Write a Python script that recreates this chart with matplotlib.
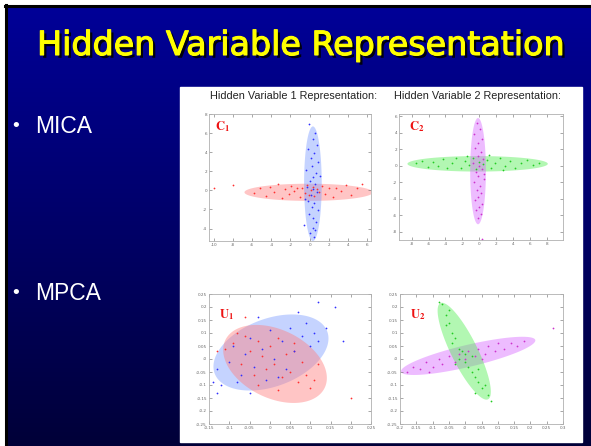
import numpy as np
import matplotlib
matplotlib.use("Agg")
import matplotlib.pyplot as plt
import matplotlib.patheffects as pe

plt.rcParams['mathtext.fontset'] = 'stix'

# ---- data ----
c1_red_x = [-10.0, -8.0, -5.8, -5.2, -4.6, -4.1, -3.7, -3.3, -2.9, -2.6, -2.2, -1.9, -1.6, -1.3, -1.0, -0.8, -0.5,
            -0.3, -0.1, 0.1, 0.3, 0.5, 0.8, 1.0, 1.3, 1.6, 2.0, 2.4, 2.8, 3.3, 3.8, 4.3, 4.9, 5.5]
c1_red_y = [0.3, 0.6, -0.3, 0.2, -0.6, 0.4, -0.2, 0.7, -0.8, 0.1, -0.4, 0.5, -0.1, 0.3, -0.7, 0.2, -0.3,
            0.6, -0.5, 0.0, 0.4, -0.6, 0.1, -0.2, 0.5, -0.4, 0.2, -0.7, 0.3, -0.1, 0.6, -0.5, 0.2, 0.7]
c1_blue_x = [-0.1, 0.6, 0.3, 0.8, -0.2, 0.5, 0.1, 0.9, 0.2, -0.4, 0.7, 0.4, 0.0, 0.6, -0.3, 0.3, 0.8, 0.1,
             -0.5, 0.5, 0.2, 0.9, -0.1, 0.4, 0.7, -0.6, 0.3, 0.6, 0.0, 1.1, -0.2, 0.5]
c1_blue_y = [7.0, 6.0, 5.4, 4.8, 4.3, 3.9, 3.4, 3.0, 2.6, 2.1, 1.8, 1.4, 1.0, 0.7, 0.4, 0.1, -0.2, -0.5,
             -0.9, -1.3, -1.7, -2.1, -2.5, -2.9, -3.3, -3.6, -3.9, -4.2, -4.5, 1.5, -1.1, -4.9]

c2_green_x = [-7.5, -6.8, -6.1, -5.5, -4.9, -4.3, -3.8, -3.2, -2.7, -2.2, -1.7, -1.2, -0.8, -0.4, 0.0, 0.4, 0.9,
              1.4, 1.9, 2.4, 3.0, 3.6, 4.2, 4.9, 5.6, 6.3, 7.1, -1.5, 1.2, 2.8]
c2_green_y = [0.3, 0.6, -0.1, 0.5, 0.0, 0.8, -0.3, 0.4, 0.9, -0.2, 0.6, 0.1, 1.0, -0.4, 0.5, 0.2, 0.7,
              -0.2, 0.4, 0.9, 0.0, 0.6, -0.3, 0.3, 0.7, 0.1, 0.4, 1.2, 1.3, -0.5]
c2_mag_x = [-0.3, 0.1, -0.6, 0.3, -0.2, -0.5, 0.2, -0.1, 0.4, -0.7, 0.0, 0.3, -0.4, -0.2, 0.5, -0.6, 0.1,
            -0.3, 0.2, -0.1, -0.5, 0.3, 0.0, -0.4, 0.2, -0.2, 0.6, 0.3]
c2_mag_y = [5.2, 4.5, 3.9, 3.3, 2.8, 2.2, 1.7, 1.2, 0.8, 0.4, 0.0, -0.4, -0.8, -1.2, -1.6, -2.0, -2.5,
            -2.9, -3.3, -3.8, -4.2, -4.6, -5.0, -5.4, -5.9, -6.3, -1.0, -8.9]

u1_red_x = [-0.11, -0.09, -0.07, -0.06, -0.05, -0.04, -0.03, -0.02, -0.01, 0.0, 0.01, 0.02, 0.03, 0.04, 0.05,
            0.06, 0.07, 0.08, 0.09, 0.10, 0.11, -0.08, -0.03, 0.02, 0.06, 0.27, 0.20, -0.13, 0.12, -0.06]
u1_red_y = [0.04, 0.06, -0.02, 0.09, 0.03, -0.06, 0.07, 0.01, -0.04, 0.05, -0.02, 0.08, -0.07, 0.02, -0.05,
            0.03, -0.09, -0.01, -0.06, -0.11, -0.08, 0.10, -0.10, -0.12, 0.06, -0.21, -0.15, 0.03, -0.02, 0.16]
u1_blue_x = [-0.13, -0.12, -0.10, -0.09, -0.07, -0.06, -0.05, -0.04, -0.02, -0.01, 0.0, 0.01, 0.03, 0.04, 0.05,
             0.06, 0.08, 0.09, 0.10, 0.11, 0.12, -0.08, -0.03, 0.02, 0.07, 0.12, 0.16, 0.18, 0.27, -0.14, -0.13,
             -0.05, 0.14]
u1_blue_y = [-0.04, -0.10, -0.01, 0.05, -0.06, 0.02, 0.08, -0.03, 0.04, -0.08, 0.11, 0.00, 0.07, -0.04, 0.12,
             0.03, 0.09, 0.14, 0.05, 0.10, 0.07, -0.09, 0.16, -0.07, 0.18, 0.22, 0.20, 0.07, 0.06, -0.09, -0.13,
             -0.13, 0.12]

u2_green_x = [-0.07, -0.06, -0.06, -0.05, -0.04, -0.04, -0.03, -0.02, -0.02, -0.01, 0.0, 0.0, 0.01, 0.02, 0.02,
              0.03, 0.04, 0.04, 0.05, 0.06, 0.07, -0.05, 0.08, -0.08, -0.03, 0.03]
u2_green_y = [0.21, 0.17, 0.13, 0.14, 0.10, 0.06, 0.08, 0.04, 0.00, 0.03, -0.01, 0.02, -0.03, -0.05, 0.01,
              -0.07, -0.09, -0.04, -0.11, -0.10, -0.14, 0.19, -0.16, 0.22, -0.02, -0.13]
u2_mag_x = [-0.18, -0.16, -0.14, -0.12, -0.10, -0.08, -0.07, -0.05, -0.03, -0.02, 0.0, 0.01, 0.03, 0.04, 0.06,
            0.07, 0.09, 0.10, 0.12, 0.14, 0.16, 0.18, -0.11, 0.05, 0.27]
u2_mag_y = [-0.05, -0.03, -0.04, -0.01, -0.03, 0.00, -0.02, 0.01, -0.01, 0.02, 0.00, 0.03, 0.01, 0.04, 0.02,
            0.05, 0.03, 0.06, 0.04, 0.06, 0.05, 0.07, -0.05, 0.00, 0.12]

# ellipses: centre, two conjugate half-axis vectors (data units)
c1_red_ell = [(-0.1, -0.2), (6.7, 0.0), (0.0, 0.9)]
c1_blue_ell = [(0.34, 0.7), (0.92, 0.0), (0.0, 6.0)]
c2_green_ell = [(-0.2, 0.25), (8.3, 0.0), (0.0, 0.94)]
c2_mag_ell = [(-0.15, -0.64), (0.93, 0.0), (0.0, 6.45)]
u1_blue_ell = [(0.003, 0.025), (0.142, 0.054), (0.0, 0.136)]
u1_red_ell = [(0.013, -0.019), (0.128, -0.054), (0.0, 0.140)]
u2_green_ell = [(-0.003, 0.03), (-0.073, 0.185), (0.0365, 0.022)]
u2_mag_ell = [(0.009, 0.012), (0.206, 0.061), (-0.008, 0.041)]

W, H = 591, 446
fig = plt.figure(figsize=(W / 100, H / 100), dpi=100)

# slide background, laid out in pixel units
bg = fig.add_axes([0, 0, 1, 1])
bg.set_xlim(0, W)
bg.set_ylim(H, 0)
bg.axis('off')
grad = np.linspace(0, 1, 256).reshape(-1, 1)
top = np.array([0.0, 0.0, 0.60])
bot = np.array([0.0, 0.0, 0.22])
img = top + (bot - top) * grad[..., None]
bg.imshow(img, extent=[0, W, H, 0], aspect='auto', zorder=0)
bg.add_patch(plt.Rectangle((0, 0), W, 5, color='white', zorder=1))
bg.add_patch(plt.Rectangle((0, 0), 5, H, color='white', zorder=1))
bg.plot([5.5, 5.5], [5, H], color='black', lw=2.2, zorder=2)
bg.plot([5, W], [6, 6], color='black', lw=2.2, zorder=2)

bg.text(301, 55, "Hidden Variable Representation", color='#ffff00', fontsize=24,
        ha='center', va='baseline', zorder=3,
        path_effects=[pe.SimplePatchShadow(offset=(2, -2), shadow_rgbFace='black', alpha=0.9),
                      pe.withStroke(linewidth=0.8, foreground='#ffff00')])

for label, yb in [("MICA", 133), ("MPCA", 300)]:
    bg.text(12, yb - 2, "\u2022", color='white', fontsize=14, family='Liberation Sans',
            va='baseline', zorder=3)
    bg.text(35, yb, label, color='white', fontsize=16.5, family='Liberation Sans',
            va='baseline', zorder=3)

# white picture area
bg.add_patch(plt.Rectangle((180, 87), 402, 355, color='white', zorder=2))
bg.text(293.5, 96, "Hidden Variable 1 Representation:", fontsize=7.8, family='Liberation Sans',
        color='#222222', ha='center', va='center', zorder=3)
bg.text(477.5, 96, "Hidden Variable 2 Representation:", fontsize=7.8, family='Liberation Sans',
        color='#222222', ha='center', va='center', zorder=3)


def ellipse(ax, ell, color):
    (cx, cy), (ax_, ay_), (bx, by) = ell
    t = np.linspace(0, 2 * np.pi, 200)
    xs = cx + ax_ * np.cos(t) + bx * np.sin(t)
    ys = cy + ay_ * np.cos(t) + by * np.sin(t)
    ax.fill(xs, ys, color=color, alpha=0.45, lw=0, zorder=1)


def style(ax, xlim, ylim, xticks, yticks):
    ax.set_xlim(*xlim)
    ax.set_ylim(*ylim)
    ax.set_xticks(xticks)
    ax.set_yticks(yticks)
    ax.set_xticklabels(['%g' % v for v in xticks])
    ax.set_yticklabels(['%g' % v for v in yticks])
    ax.tick_params(direction='in', length=2, width=0.4, labelsize=3, colors='#666666',
                   top=True, right=True, pad=1.5)
    for s in ax.spines.values():
        s.set_color('#b0b0b0')
        s.set_linewidth(0.6)


def pos(l, r, t, b):
    return [l / W, 1 - b / H, (r - l) / W, (b - t) / H]


panels = [
    dict(rect=pos(209, 371, 114, 241), xlim=(-10.5, 6.4), ylim=(-5.3, 8),
         xt=np.arange(-10, 7, 2), yt=np.arange(-4, 9, 2),
         ells=[(c1_red_ell, '#ff7f7f'), (c1_blue_ell, '#7f9fff')],
         pts=[(c1_red_x, c1_red_y, '#ff3030'), (c1_blue_x, c1_blue_y, '#3030ff')],
         lab=r'$\mathbf{C}_\mathbf{1}$', lxy=(0.04, 0.9)),
    dict(rect=pos(399, 563, 114, 240), xlim=(-9.5, 9.9), ylim=(-9, 6.3),
         xt=np.arange(-8, 9, 2), yt=np.arange(-8, 7, 2),
         ells=[(c2_green_ell, '#55ee55'), (c2_mag_ell, '#d96bff')],
         pts=[(c2_green_x, c2_green_y, '#22cc22'), (c2_mag_x, c2_mag_y, '#cc33cc')],
         lab=r'$\mathbf{C}_\mathbf{2}$', lxy=(0.06, 0.9)),
    dict(rect=pos(209, 371, 294, 424), xlim=(-0.15, 0.25), ylim=(-0.25, 0.25),
         xt=np.round(np.arange(-0.15, 0.26, 0.05), 2), yt=np.round(np.arange(-0.25, 0.26, 0.05), 2),
         ells=[(u1_blue_ell, '#7f9fff'), (u1_red_ell, '#ff7f7f')],
         pts=[(u1_red_x, u1_red_y, '#ff3030'), (u1_blue_x, u1_blue_y, '#3030ff')],
         lab=r'$\mathbf{U}_\mathbf{1}$', lxy=(0.06, 0.84)),
    dict(rect=pos(400, 563, 294, 424), xlim=(-0.2, 0.3), ylim=(-0.25, 0.25),
         xt=np.round(np.arange(-0.2, 0.31, 0.05), 2), yt=np.round(np.arange(-0.25, 0.26, 0.05), 2),
         ells=[(u2_mag_ell, '#d96bff'), (u2_green_ell, '#55ee55')],
         pts=[(u2_green_x, u2_green_y, '#22cc22'), (u2_mag_x, u2_mag_y, '#cc33cc')],
         lab=r'$\mathbf{U}_\mathbf{2}$', lxy=(0.06, 0.84)),
]

for p in panels:
    ax = fig.add_axes(p['rect'])
    for ell, col in p['ells']:
        ellipse(ax, ell, col)
    for xs, ys, col in p['pts']:
        ax.scatter(xs, ys, s=1.6, color=col, lw=0, zorder=2)
    style(ax, p['xlim'], p['ylim'], p['xt'], p['yt'])
    ax.text(p['lxy'][0], p['lxy'][1], p['lab'], transform=ax.transAxes, color='#ee1111',
            fontsize=9, ha='left', va='center')

fig.savefig("out.png", dpi=100)
